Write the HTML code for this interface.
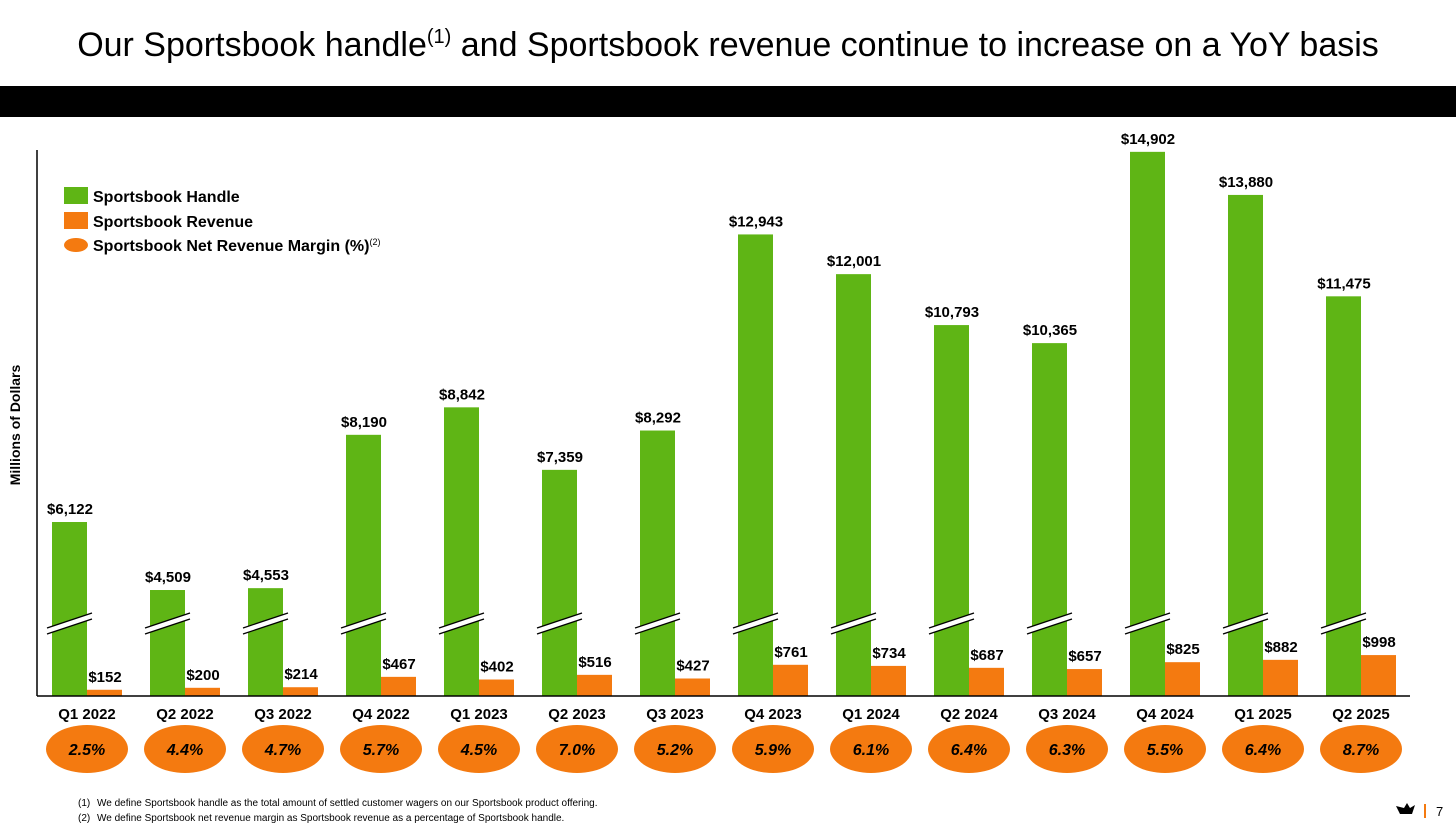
<!DOCTYPE html>
<html><head><meta charset="utf-8"><style>
body{margin:0;width:1456px;height:829px;background:#fff;overflow:hidden;font-family:"Liberation Sans",sans-serif}
</style></head><body>
<svg width="1456" height="829" xmlns="http://www.w3.org/2000/svg">
<text x="728" y="56" text-anchor="middle" font-size="34" font-family="Liberation Sans, sans-serif">Our Sportsbook handle<tspan font-size="20" dy="-13">(1)</tspan><tspan dy="13"> and Sportsbook revenue continue to increase on a YoY basis</tspan></text>
<rect x="0" y="86" width="1456" height="31" fill="#000"/>
<g id="plot"></g>
<line x1="37" y1="150" x2="37" y2="696" stroke="#000" stroke-width="1.5"/>
<line x1="37" y1="696" x2="1410" y2="696" stroke="#000" stroke-width="1.5"/>
<text transform="translate(20,425) rotate(-90)" text-anchor="middle" font-size="14" font-weight="bold">Millions of Dollars</text>
<g font-size="16" font-weight="bold">
<rect x="64" y="187" width="24" height="17" fill="#5fb515"/>
<text x="93" y="202">Sportsbook Handle</text>
<rect x="64" y="212" width="24" height="17" fill="#f47a10"/>
<text x="93" y="227">Sportsbook Revenue</text>
<ellipse cx="76" cy="245" rx="12" ry="7" fill="#f47a10"/>
<text x="93" y="251">Sportsbook Net Revenue Margin (%)<tspan font-size="9" font-weight="normal" dy="-6">(2)</tspan></text>
</g>
<g font-size="10">
<text x="78" y="806">(1)</text>
<text x="97" y="806">We define Sportsbook handle as the total amount of settled customer wagers on our Sportsbook product offering.</text>
<text x="78" y="821">(2)</text>
<text x="97" y="821">We define Sportsbook net revenue margin as Sportsbook revenue as a percentage of Sportsbook handle.</text>
</g>
<path d="M1396 806 l4 8 h12 l3 -9 l-5 3 l-3 -5 l-3 5 z" fill="#000"/>
<rect x="1424" y="804" width="2" height="14" fill="#f47a10"/>
<text x="1436" y="816" font-size="13">7</text>
</svg>
<script>
const categories=["Q1 2022","Q2 2022","Q3 2022","Q4 2022","Q1 2023","Q2 2023","Q3 2023","Q4 2023","Q1 2024","Q2 2024","Q3 2024","Q4 2024","Q1 2025","Q2 2025"];
const handle=[6122,4509,4553,8190,8842,7359,8292,12943,12001,10793,10365,14902,13880,11475];
const revenue=[152,200,214,467,402,516,427,761,734,687,657,825,882,998];
const margin=["2.5%","4.4%","4.7%","5.7%","4.5%","7.0%","5.2%","5.9%","6.1%","6.4%","6.3%","5.5%","6.4%","8.7%"];
const NS="http://www.w3.org/2000/svg";
const g=document.getElementById('plot');
const base=696;
function xc(i){return 86+i*98;}
function yH(v){return base-(v-1995)*0.04216;}
function yR(v){return base-v*0.041;}
function mk(t,a,txt){const e=document.createElementNS(NS,t);for(const k in a)e.setAttribute(k,a[k]);if(txt!==undefined)e.textContent=txt;g.appendChild(e);return e;}
const fmt=v=>"$"+v.toLocaleString("en-US");
categories.forEach((c,i)=>{
 const x=xc(i);
 let b=mk('rect',{x:x-34,y:yH(handle[i]),width:35,height:base-yH(handle[i]),fill:'#5fb515'});
 
 
 let br=mk('path',{d:`M${x-39} ${base-68} L${x+6} ${base-83} L${x+6} ${base-77} L${x-39} ${base-62} Z`,fill:'#fff'});
 
 
 let l1=mk('line',{x1:x-39,y1:base-68,x2:x+6,y2:base-83,stroke:'#000','stroke-width':1.3});
 
 
 let l2=mk('line',{x1:x-39,y1:base-62,x2:x+6,y2:base-77,stroke:'#000','stroke-width':1.3});
 
 
 let r=mk('rect',{x:x+1,y:yR(revenue[i]),width:35,height:base-yR(revenue[i]),fill:'#f47a10'});
 
 
 let t1=mk('text',{x:x-16,y:yH(handle[i])-8,'text-anchor':'middle','font-size':15,'font-weight':'bold'},fmt(handle[i]));
 
 
 let t2=mk('text',{x:x+19,y:yR(revenue[i])-8,'text-anchor':'middle','font-size':15,'font-weight':'bold'},fmt(revenue[i]));
 
 
 let cl=mk('text',{x:x+1,y:719,'text-anchor':'middle','font-size':15,'font-weight':'bold'},c);
 
 
 let el=mk('ellipse',{cx:x+1,cy:749,rx:41,ry:24,fill:'#f47a10'});
 
 
 let mt=mk('text',{x:x+1,y:755,'text-anchor':'middle','font-size':16,'font-weight':'bold','font-style':'italic'},margin[i]);
 
 
});
</script>
</body></html>
